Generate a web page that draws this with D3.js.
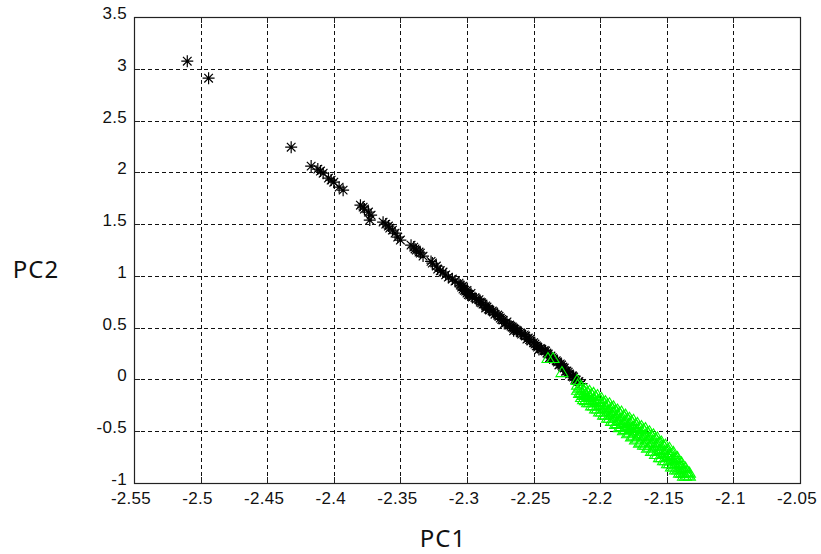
<!DOCTYPE html>
<html><head><meta charset="utf-8">
<script src="https://cdn.jsdelivr.net/npm/d3@7"></script>
<style>html,body{margin:0;padding:0;background:#fff;}svg{display:block;}</style>
</head><body>
<svg id="chart" width="821" height="554"></svg>
<script>
const xTicks = [-2.55,-2.5,-2.45,-2.4,-2.35,-2.3,-2.25,-2.2,-2.15,-2.1,-2.05];
const yTicks = [-1,-0.5,0,0.5,1,1.5,2,2.5,3,3.5];
const xTickLabels = ["-2.55","-2.5","-2.45","-2.4","-2.35","-2.3","-2.25","-2.2","-2.15","-2.1","-2.05"];
const yTickLabels = ["-1","-0.5","0","0.5","1","1.5","2","2.5","3","3.5"];
const xLabel = "PC1", yLabel = "PC2";

const blackX = [-2.510,-2.494,-2.432,-2.417,-2.412,-2.410,-2.408,-2.404,-2.402,-2.400,-2.396,-2.393,
 -2.380,-2.378,-2.377,-2.374,-2.372,-2.373,-2.363,-2.361,-2.359,-2.358,-2.356,-2.354,-2.352,-2.350,
 -2.342,-2.340,-2.338,-2.335,-2.333,-2.326,-2.323,-2.322,-2.318,-2.314,-2.311,-2.305,-2.304,-2.303,
 -2.301,-2.300,-2.298,-2.296,-2.293,-2.290,-2.288,-2.285,-2.283,-2.280,-2.277,-2.275,-2.273,-2.271,
 -2.268,-2.266,-2.264,-2.262,-2.259,-2.256,-2.254,-2.252,-2.249,-2.247,-2.244,-2.241,-2.239,-2.237,
 -2.235,-2.232,-2.229,-2.227,-2.225,-2.223,-2.220,-2.218,
 -2.302,-2.299,-2.286,-2.272,-2.265,-2.255,-2.246,-2.238,-2.231,-2.226,-2.221,
 -2.339,-2.336,-2.327,-2.320,-2.316,-2.309,
 -2.306,-2.303,-2.300,-2.297,-2.294,-2.291,-2.289,-2.286,-2.284,-2.281,-2.279,-2.276,-2.274,-2.270,
 -2.267,-2.265,-2.263,-2.260,-2.257,-2.253,-2.250,-2.248,-2.245,-2.242,-2.240,-2.236,-2.233,-2.230,
 -2.228,-2.224,-2.221,-2.219,-2.216,-2.214];
const blackY = [3.073,2.909,2.243,2.060,2.031,2.012,1.992,1.944,1.925,1.905,1.857,1.828,
 1.683,1.664,1.645,1.616,1.587,1.539,1.519,1.500,1.481,1.461,1.442,1.413,1.375,1.346,
 1.297,1.278,1.249,1.220,1.191,1.124,1.095,1.066,1.037,0.988,0.969,0.911,0.892,0.873,
 0.853,0.834,0.815,0.795,0.776,0.747,0.728,0.699,0.670,0.651,0.622,0.593,0.573,0.544,
 0.525,0.506,0.486,0.467,0.438,0.419,0.400,0.371,0.342,0.313,0.293,0.274,0.245,0.226,
 0.197,0.168,0.139,0.110,0.081,0.052,0.023,-0.006,
 0.860,0.820,0.690,0.540,0.470,0.390,0.290,0.210,0.140,0.080,0.030,
 1.260,1.230,1.140,1.050,1.010,0.950,
 0.930,0.900,0.860,0.830,0.790,0.770,0.740,0.710,0.680,0.660,0.630,0.610,0.580,0.555,
 0.515,0.495,0.475,0.450,0.430,0.385,0.355,0.325,0.300,0.280,0.255,0.210,0.180,0.150,
 0.120,0.070,0.035,0.000,-0.020,-0.040];

const greenX = [-2.2392,-2.2354,-2.2287,-2.2174,
 -2.217,-2.217, -2.214,-2.214,-2.214, -2.211,-2.211,-2.211, -2.208,-2.208,-2.208,
 -2.205,-2.205,-2.205, -2.202,-2.202,-2.202, -2.199,-2.199,-2.199, -2.196,-2.196,-2.196,
 -2.193,-2.193,-2.193, -2.190,-2.190,-2.190, -2.187,-2.187,-2.187, -2.184,-2.184,-2.184,
 -2.181,-2.181,-2.181, -2.178,-2.178,-2.178, -2.175,-2.175,-2.175, -2.172,-2.172,-2.172,
 -2.169,-2.169,-2.169, -2.166,-2.166,-2.166, -2.163,-2.163,-2.163, -2.160,-2.160,-2.160,
 -2.157,-2.157,-2.157, -2.154,-2.154,-2.154, -2.151,-2.151,-2.151, -2.148,-2.148,-2.148,
 -2.145,-2.145,-2.145, -2.142,-2.142,-2.142, -2.139,-2.139,-2.139, -2.136,-2.136,-2.136,
 -2.133,-2.133,
 -2.2155,-2.2155, -2.2125,-2.2125,-2.2125, -2.2095,-2.2095,-2.2095, -2.2065,-2.2065,-2.2065,
 -2.2035,-2.2035,-2.2035, -2.2005,-2.2005,-2.2005, -2.1975,-2.1975,-2.1975, -2.1945,-2.1945,-2.1945,
 -2.1915,-2.1915,-2.1915, -2.1885,-2.1885,-2.1885, -2.1855,-2.1855,-2.1855, -2.1825,-2.1825,-2.1825,
 -2.1795,-2.1795,-2.1795, -2.1765,-2.1765,-2.1765, -2.1735,-2.1735,-2.1735, -2.1705,-2.1705,-2.1705,
 -2.1675,-2.1675,-2.1675, -2.1645,-2.1645,-2.1645, -2.1615,-2.1615,-2.1615, -2.1585,-2.1585,-2.1585,
 -2.1555,-2.1555,-2.1555, -2.1525,-2.1525,-2.1525, -2.1495,-2.1495,-2.1495, -2.1465,-2.1465,-2.1465,
 -2.1435,-2.1435,-2.1435, -2.1405,-2.1405,-2.1405, -2.1375,-2.1375,-2.1375, -2.1345,-2.1345];
const greenY = [0.207,0.207,0.071,-0.006,
 -0.05,-0.10, -0.07,-0.12,-0.17, -0.09,-0.14,-0.20, -0.11,-0.16,-0.22,
 -0.13,-0.19,-0.25, -0.15,-0.21,-0.28, -0.18,-0.24,-0.31, -0.21,-0.27,-0.34,
 -0.23,-0.30,-0.37, -0.26,-0.32,-0.40, -0.29,-0.35,-0.42, -0.31,-0.38,-0.45,
 -0.34,-0.41,-0.48, -0.37,-0.44,-0.51, -0.39,-0.46,-0.54, -0.42,-0.49,-0.57,
 -0.45,-0.52,-0.60, -0.47,-0.54,-0.63, -0.50,-0.57,-0.65, -0.53,-0.60,-0.69,
 -0.56,-0.63,-0.72, -0.60,-0.67,-0.75, -0.63,-0.70,-0.78, -0.66,-0.73,-0.81,
 -0.70,-0.77,-0.84, -0.75,-0.81,-0.87, -0.80,-0.85,-0.90, -0.85,-0.89,-0.93,
 -0.90,-0.93,
 -0.08,-0.13, -0.10,-0.15,-0.19, -0.12,-0.17,-0.22, -0.14,-0.20,-0.25,
 -0.16,-0.22,-0.28, -0.19,-0.25,-0.31, -0.22,-0.28,-0.34, -0.24,-0.31,-0.37,
 -0.27,-0.33,-0.40, -0.30,-0.36,-0.43, -0.32,-0.39,-0.46, -0.35,-0.42,-0.49,
 -0.38,-0.45,-0.52, -0.40,-0.47,-0.55, -0.43,-0.50,-0.58, -0.46,-0.53,-0.61,
 -0.48,-0.55,-0.63, -0.51,-0.58,-0.66, -0.54,-0.61,-0.69, -0.57,-0.64,-0.72,
 -0.61,-0.68,-0.75, -0.64,-0.71,-0.78, -0.68,-0.74,-0.81, -0.72,-0.78,-0.84,
 -0.76,-0.82,-0.87, -0.81,-0.86,-0.90, -0.86,-0.90,-0.93, -0.89,-0.92];

const svg = d3.select("#chart");
const L = 134, R = 800, T = 17, B = 483;
const x = d3.scaleLinear().domain([-2.55,-2.05]).range([L,R]);
const y = d3.scaleLinear().domain([-1,3.5]).range([B,T]);

const font = "'Liberation Sans', Arial, sans-serif";

// grid
const g = svg.append("g");
g.selectAll(".gx").data(xTicks.slice(1,-1)).join("line")
  .attr("x1",d=>Math.round(x(d))+0.5).attr("x2",d=>Math.round(x(d))+0.5)
  .attr("y1",T).attr("y2",B)
  .attr("stroke","#111").attr("stroke-width",1).attr("stroke-dasharray","4,3");
g.selectAll(".gy").data(yTicks.slice(1,-1)).join("line")
  .attr("y1",d=>Math.round(y(d))+0.5).attr("y2",d=>Math.round(y(d))+0.5)
  .attr("x1",L).attr("x2",R)
  .attr("stroke","#111").attr("stroke-width",1).attr("stroke-dasharray","4,3");

// ticks (inward)
const tk = svg.append("g").attr("stroke","#222");
xTicks.forEach(d=>{
  const xx = Math.round(x(d))+0.5;
  tk.append("line").attr("x1",xx).attr("x2",xx).attr("y1",B).attr("y2",B-6);
  tk.append("line").attr("x1",xx).attr("x2",xx).attr("y1",T).attr("y2",T+6);
});
yTicks.forEach(d=>{
  const yy = Math.round(y(d))+0.5;
  tk.append("line").attr("y1",yy).attr("y2",yy).attr("x1",L).attr("x2",L+6);
  tk.append("line").attr("y1",yy).attr("y2",yy).attr("x1",R).attr("x2",R-6);
});

// data: black stars
const star = d3.symbol().type({draw(ctx,size){
  const r = 6, d = 4.3;
  ctx.moveTo(-r,0); ctx.lineTo(r,0);
  ctx.moveTo(0,-r); ctx.lineTo(0,r);
  ctx.moveTo(-d,-d); ctx.lineTo(d,d);
  ctx.moveTo(-d,d); ctx.lineTo(d,-d);
}});
const blackPts = blackX.map((v,i)=>[v,blackY[i]]);
svg.append("g").selectAll("path").data(blackPts).join("path")
  .attr("d",star()).attr("transform",d=>`translate(${x(d[0])},${y(d[1])})`)
  .attr("fill","none").attr("stroke","#000").attr("stroke-width",1.2);

// green triangles
const tri = d3.symbol().type({draw(ctx){
  ctx.moveTo(0,-5.5); ctx.lineTo(6,4.5); ctx.lineTo(-6,4.5); ctx.closePath();
}});
const greenPts = greenX.map((v,i)=>[v,greenY[i]]);
svg.append("g").selectAll("path").data(greenPts).join("path")
  .attr("d",tri()).attr("transform",d=>`translate(${x(d[0])},${y(d[1])})`)
  .attr("fill","none").attr("stroke","#00ff00").attr("stroke-width",1.1);

// frame
svg.append("rect").attr("x",L+0.5).attr("y",T+0.5).attr("width",R-L).attr("height",B-T)
  .attr("fill","none").attr("stroke","#222").attr("stroke-width",1.2);

// tick labels
svg.append("g").selectAll("text").data(xTicks).join("text")
  .attr("x",d=>x(d)-3).attr("y",B+21)
  .attr("text-anchor","middle").attr("font-family",font).attr("font-size",17)
  .attr("letter-spacing","0.3").attr("fill","#111")
  .text((d,i)=>xTickLabels[i]);
svg.append("g").selectAll("text").data(yTicks).join("text")
  .attr("x",L-7).attr("y",d=>y(d)+2)
  .attr("text-anchor","end").attr("font-family",font).attr("font-size",17)
  .attr("letter-spacing","0.3").attr("fill","#111")
  .text((d,i)=>yTickLabels[i]);

// axis titles
svg.append("text").attr("x",443).attr("y",547).attr("text-anchor","middle")
  .attr("font-family","'Noto Sans', 'Open Sans', sans-serif").attr("font-size",24)
  .attr("letter-spacing","1").attr("fill","#111").text(xLabel);
svg.append("text").attr("x",36).attr("y",278).attr("text-anchor","middle")
  .attr("font-family","'Noto Sans', 'Open Sans', sans-serif").attr("font-size",24)
  .attr("letter-spacing","1").attr("fill","#111").text(yLabel);
</script>
</body></html>
